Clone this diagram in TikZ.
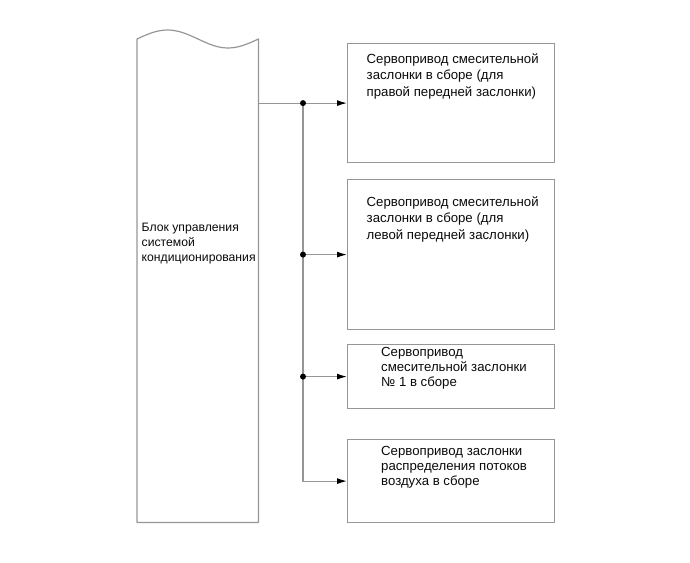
\documentclass[tikz,border=0pt]{standalone}
\usepackage{fontspec}
\setmainfont{Liberation Sans}
\usetikzlibrary{arrows.meta}
\definecolor{linegray}{RGB}{150,150,150}
\definecolor{textdark}{RGB}{10,10,10}
\begin{document}
\begin{tikzpicture}[x=1pt,y=-1pt,
  box/.style={draw=linegray, line width=1.2pt, rectangle, inner sep=0pt, anchor=north west},
  wire/.style={draw=linegray, line width=1.2pt},
  conn/.style={wire, -{Latex[length=10pt,width=6pt,color=black]}},
  dotj/.style={circle, fill=black, inner sep=0pt, minimum size=6pt},
  boxtext/.style={anchor=north west, inner sep=0pt, align=left, text=textdark, font=\fontsize{13.2}{16.3}\selectfont},
  boxtextb/.style={boxtext, font=\fontsize{13.2}{15}\selectfont},
  blktext/.style={anchor=north west, inner sep=0pt, align=left, text=textdark, font=\fontsize{12.2}{15}\selectfont}
]
\useasboundingbox (0,0) rectangle (690,562);
% control block
\node[anchor=north west, inner sep=0pt, minimum width=121pt, minimum height=483pt] (blk) at (137,39) {};
\draw[wire, line join=round] (blk.north west) sin (167.5,30) cos (198,39) sin (228,48) cos (blk.north east)
  -- (blk.south east) -- (blk.south west) -- cycle;
\node[blktext] (tb) at (141.5,223) {Блок управления\\системой\\кондиционирования};
% boxes
\node[box, minimum width=207pt, minimum height=119pt] (b1) at (347,43) {};
\node[box, minimum width=207pt, minimum height=150pt] (b2) at (347,179) {};
\node[box, minimum width=207pt, minimum height=64pt] (b3) at (347,344) {};
\node[box, minimum width=207pt, minimum height=83pt] (b4) at (347,439) {};
\node[boxtext] (t1) at (366.5,53.5) {Сервопривод смесительной\\заслонки в сборе (для\\правой передней заслонки)};
\node[boxtext] (t2) at (366.5,196.5) {Сервопривод смесительной\\заслонки в сборе (для\\левой передней заслонки)};
\node[boxtextb] (t3) at (381,347.5) {Сервопривод\\смесительной заслонки\\№ 1 в сборе};
\node[boxtextb] (t4) at (381,446) {Сервопривод заслонки\\распределения потоков\\воздуха в сборе};
% connectors
\coordinate (j1) at (303,0 |- b1.west);
\coordinate (j2) at (303,0 |- b2.west);
\coordinate (j3) at (303,0 |- b3.west);
\coordinate (j4) at (303,0 |- b4.west);
\draw[conn] (blk.east |- b1.west) -- (b1.west);
\draw[conn] (j1) -- (j4) -- (b4.west);
\draw[conn] (j2) -- (b2.west);
\draw[conn] (j3) -- (b3.west);
\node[dotj] (d1) at (j1) {};
\node[dotj] (d2) at (j2) {};
\node[dotj] (d3) at (j3) {};
\end{tikzpicture}
\end{document}
